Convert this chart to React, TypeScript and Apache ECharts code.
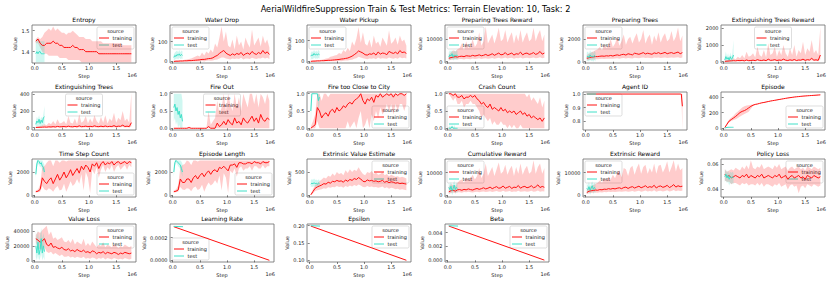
import React, { useEffect, useRef } from 'react';
import * as echarts from 'echarts';

const RED = '#ff1010';
const TURQ = '#40e0c8';
const RED_BAND = 'rgba(255,0,0,0.2)';
const TURQ_BAND = 'rgba(64,224,200,0.25)';
const FONT = 'DejaVu Sans';

const MAIN_TITLE = 'AerialWildfireSuppression Train & Test Metrics: Terrain Elevation: 10, Task: 2';
const X_TICKS = [0, 0.5, 1.0, 1.5];

const STEPS = [
  0.02, 0.06, 0.10, 0.14, 0.18, 0.22, 0.26, 0.30, 0.34, 0.38,
  0.42, 0.46, 0.50, 0.54, 0.58, 0.62, 0.66, 0.70, 0.74, 0.78,
  0.82, 0.86, 0.90, 0.94, 0.98, 1.02, 1.06, 1.10, 1.14, 1.18,
  1.22, 1.26, 1.30, 1.34, 1.38, 1.42, 1.46, 1.50, 1.54, 1.58,
  1.62, 1.66, 1.70, 1.74, 1.78,
];
const TEST_STEPS = [0.02, 0.04, 0.06, 0.08, 0.10, 0.12, 0.14, 0.16, 0.18];
const AGENT_STEPS = [0.02, 1.74, 1.76, 1.78];
const LINE_STEPS = [0.02, 1.78];
const LINE_TEST_STEPS = [0.02, 0.19];

const entropyMean = [1.45,1.46,1.44,1.43,1.43, 1.44,1.44,1.44,1.45,1.44, 1.44,1.43,1.43,1.42,1.42, 1.42,1.42,1.43,1.42,1.42, 1.41,1.41,1.41,1.40,1.40, 1.40,1.40,1.40,1.40,1.39, 1.39,1.39,1.39,1.39,1.39, 1.39,1.39,1.39,1.39,1.39, 1.39,1.39,1.39,1.39,1.39];
const entropyUpper = [1.46,1.47,1.46,1.47,1.49, 1.50,1.51,1.50,1.52,1.50, 1.51,1.50,1.49,1.49,1.48, 1.49,1.49,1.50,1.49,1.48, 1.47,1.47,1.47,1.46,1.46, 1.46,1.45,1.45,1.45,1.45, 1.45,1.44,1.44,1.44,1.44, 1.44,1.44,1.44,1.44,1.44, 1.43,1.43,1.43,1.43,1.43];
const entropyLower = [1.44,1.44,1.42,1.40,1.39, 1.39,1.38,1.38,1.38,1.38, 1.38,1.37,1.37,1.37,1.37, 1.36,1.36,1.36,1.36,1.36, 1.36,1.35,1.35,1.35,1.35, 1.35,1.35,1.35,1.35,1.35, 1.35,1.35,1.35,1.35,1.35, 1.35,1.35,1.35,1.35,1.35, 1.35,1.35,1.35,1.35,1.35];
const entropyTest = [1.39,1.40,1.39,1.40,1.40,1.39,1.39,1.39,1.39];
const entropyTestUpper = [1.46,1.46,1.45,1.46,1.45,1.45,1.45,1.45,1.45];
const entropyTestLower = [1.35,1.35,1.35,1.35,1.35,1.35,1.35,1.35,1.35];

const waterDropMean = [0,1,1,2,2, 3,3,4,4,5, 6,7,8,10,10, 12,14,15,18,25, 30,40,48,55,42, 35,30,38,32,40, 35,45,30,38,42, 35,50,40,35,45, 38,55,40,48,35];
const waterDropUpper = [2,4,5,6,6, 8,10,12,15,20, 25,30,25,45,30, 50,40,60,45,90, 70,120,175,100,150, 80,70,110,60,130, 80,100,60,120,90, 70,160,80,100,120, 75,130,90,110,70];
const waterDropLower = [0,0,0,0,0, 0,0,0,0,0, 0,0,0,2,0, 3,4,3,5,8, 10,15,20,20,15, 12,10,15,12,15, 12,18,10,14,15, 12,18,14,12,16, 14,20,15,18,12];
const waterDropTest = [20,30,25,35,30,38,28,35,30];
const waterDropTestUpper = [35,45,50,55,45,58,45,55,50];
const waterDropTestLower = [5,10,12,15,10,18,12,15,12];

const waterPickupMean = [0,1,1,2,2, 3,3,4,5,5, 6,7,8,9,11, 12,14,16,20,25, 32,40,50,45,40, 32,30,36,34,40, 30,45,35,40,38, 32,48,42,38,44, 36,52,42,45,38];
const waterPickupUpper = [2,4,5,6,7, 8,10,14,15,22, 24,28,30,40,35, 55,45,65,50,95, 75,110,165,90,140, 85,75,105,65,125, 85,95,70,115,95, 75,150,85,95,115, 80,125,95,105,75];
const waterPickupLower = [0,0,0,0,0, 0,0,0,0,0, 0,1,0,2,1, 3,4,4,6,8, 12,15,22,18,15, 12,10,14,12,15, 10,18,12,15,14, 12,18,15,13,16, 13,20,15,17,14];
const waterPickupTest = [25,32,28,38,30,35,30,36,32];
const waterPickupTestUpper = [40,48,45,55,45,52,45,55,48];
const waterPickupTestLower = [8,12,10,18,12,15,12,16,14];

const prepRewardMean = [1500,1800,2000,2200,2000, 2300,2400,2200,2600,2500, 2400,2800,2500,2700,3000, 2600,2800,3200,2700,3000, 3500,2800,3300,3800,3000, 3200,4000,3000,3400,3800, 2900,3500,3300,4200,3000, 3600,3800,3200,3500,4000, 3200,3600,4500,3300,3800];
const prepRewardUpper = [3000,4000,5000,4500,5500, 6000,8000,5000,9000,6000, 7000,10000,6500,8000,13000, 7000,9000,15500,8000,10000, 12000,8000,11000,15000,9000, 10000,14000,8500,11000,13000, 8000,12000,9000,14000,8500, 11000,13000,9000,10000,15000, 9000,12000,14000,9000,12000];
const prepRewardLower = [500,800,1000,1200,1000, 1200,1200,1000,1300,1200, 1100,1400,1200,1300,1500, 1200,1400,1500,1300,1400, 1600,1300,1500,1700,1400, 1500,1800,1400,1600,1700, 1300,1600,1500,1800,1400, 1600,1700,1500,1600,1800, 1500,1600,1900,1500,1700];
const prepRewardTest = [2000,3000,2500,3500,2000,3000,2500,3000,2500];
const prepRewardTestUpper = [4000,5000,4500,5000,4000,5000,4500,5000,4500];
const prepRewardTestLower = [500,1000,800,1500,500,1000,800,1000,800];

const prepTreesMean = [300,350,400,420,450, 450,480,500,480,520, 500,550,500,560,600, 550,620,650,580,700, 650,600,750,700,650, 720,800,680,750,700, 650,780,720,800,700, 750,820,700,760,800, 720,780,850,700,800];
const prepTreesUpper = [600,700,800,900,1000, 1100,1300,1000,1500,1200, 1400,2000,1300,1600,2200, 1400,1800,2400,1500,2000, 2200,1600,2100,2500,1700, 2000,2800,1600,2100,2400, 1500,2300,1800,2600,1700, 2200,2500,1800,2000,2700, 1800,2200,3000,1800,2300];
const prepTreesLower = [100,150,200,200,220, 220,240,250,240,260, 250,270,250,280,300, 270,300,320,290,330, 310,290,350,330,310, 340,370,320,350,330, 300,360,340,370,330, 350,380,330,350,370, 340,360,390,330,370];
const prepTreesTest = [400,500,350,600,450,500,400,550,450];
const prepTreesTestUpper = [800,900,700,1000,800,900,750,950,800];
const prepTreesTestLower = [0,100,0,200,50,100,0,150,50];

const extRewardMean = [20,30,40,50,60, 50,70,60,80,50, 100,60,70,90,60, 120,80,70,100,60, 150,80,90,120,70, 100,80,150,90,70, 110,80,130,70,100, 90,150,80,120,100, 200,90,110,80,400];
const extRewardUpper = [50,80,100,150,200, 150,300,200,400,200, 600,300,350,500,250, 900,400,300,700,250, 1100,400,500,900,300, 700,400,1000,500,300, 800,400,1000,300,700, 500,1200,400,800,600, 1300,500,700,400,2100];
const extRewardLower = [0,0,10,20,20, 20,30,20,30,20, 40,20,30,40,20, 50,30,30,40,20, 60,30,40,50,30, 40,30,60,40,30, 50,30,50,30,40, 40,60,30,50,40, 80,40,50,30,150];
const extRewardTest = [100,300,150,250,100,300,150,200,400];
const extRewardTestUpper = [300,600,300,500,200,550,300,500,1300];
const extRewardTestLower = [0,50,0,50,0,50,0,0,0];

const extTreesMean = [2,4,5,6,8, 6,10,8,12,8, 15,10,12,14,10, 18,12,10,15,10, 22,12,14,18,12, 16,12,22,14,12, 18,12,20,12,16, 14,24,12,18,16, 30,14,18,12,60];
const extTreesUpper = [10,15,20,30,40, 30,60,40,80,40, 100,50,60,80,40, 140,60,50,110,40, 160,60,80,140,50, 110,60,150,80,50, 130,60,150,50,110, 80,180,60,120,90, 200,80,110,60,420];
const extTreesLower = [0,0,0,1,2, 1,2,2,3,2, 4,2,3,3,2, 4,3,2,4,2, 5,3,3,4,3, 4,3,5,3,3, 4,3,5,3,4, 3,6,3,4,4, 7,3,4,3,15];
const extTreesTest = [40,80,60,100,50,90,60,120,130];
const extTreesTestUpper = [80,130,100,150,90,130,100,160,260];
const extTreesTestLower = [0,20,10,30,0,30,10,40,20];

const fireOutMean = [0,0,0,0,0, 0,0,0.02,0,0, 0,0,0,0,0, 0,0.05,0,0,0, 0.15,0.05,0.1,0.2,0.1, 0.25,0.15,0.1,0.3,0.15, 0.2,0.1,0.3,0.2,0.15, 0.25,0.35,0.2,0.3,0.15, 0.4,0.25,0.2,0.3,0.25];
const fireOutUpper = [0,0,0,0,0, 0,0,0.05,0,0, 0,0,0,0,0, 0,0.5,0.1,0.2,0.3, 0.8,0.4,0.6,1,0.5, 1,0.7,0.5,1,0.6, 0.9,0.5,1,0.8,0.6, 1,1,0.7,1,0.6, 1,0.9,0.7,1,0.8];
const fireOutLower = [0,0,0,0,0, 0,0,0,0,0, 0,0,0,0,0, 0,0,0,0,0, 0,0,0,0,0, 0,0,0,0,0, 0,0,0,0,0, 0,0,0,0,0, 0,0,0,0,0];
const fireOutTest = [0.6,0.7,0.5,0.6,0.4,0.5,0.3,0.4,0.2];
const fireOutTestUpper = [1,1,1,1,1,1,1,1,0.8];
const fireOutTestLower = [0.2,0.3,0.1,0.2,0,0.1,0,0,0];

const fireCloseMean = [0,0.05,0.1,0.6,0.5, 0.3,0.4,0.45,0.35,0.5, 0.55,0.45,0.6,0.5,0.55, 0.65,0.6,0.7,0.75,0.7, 0.8,0.85,0.9,1,0.8, 0.7,0.85,0.8,0.9,0.75, 0.95,0.9,1,0.9,0.95, 1,0.95,1,0.9,1, 0.95,1,1,0.95,1];
const fireCloseUpper = [0.05,0.2,0.4,1,1, 0.8,1,1,0.9,1, 1,1,1,1,1, 1,1,1,1,1, 1,1,1,1,1, 1,1,1,1,1, 1,1,1,1,1, 1,1,1,1,1, 1,1,1,1,1];
const fireCloseLower = [0,0,0,0.2,0, 0,0,0,0,0, 0,0,0,0,0, 0,0,0.2,0,0.1, 0.2,0,0.3,0.5,0, 0.1,0.3,0,0.4,0.2, 0.5,0.3,0.6,0.4,0.5, 0.7,0.5,0.7,0.4,0.7, 0.5,0.7,0.7,0.5,0.7];
const fireCloseTest = [0.5,1,1,1,1,1,1,0.8,0.9];
const fireCloseTestUpper = [1,1,1,1,1,1,1,1,1];
const fireCloseTestLower = [0,1,1,1,1,1,1,0.5,0.7];

const crashMean = [1,1,0.95,1,0.9, 0.9,0.95,0.85,0.9,0.9, 0.95,0.9,0.95,0.85,0.8, 0.7,0.75,0.65,0.6,0.7, 0.55,0.6,0.55,0.5,0.6, 0.5,0.55,0.45,0.5,0.45, 0.5,0.4,0.45,0.5,0.4, 0.45,0.35,0.4,0.3,0.35, 0.3,0.25,0.3,0.2,0.3];
const crashUpper = [1,1,1,1,1, 1,1,1,1,1, 1,1,1,1,1, 1,1,1,1,1, 1,1,1,1,1, 1,1,1,1,1, 1,1,1,1,1, 1,0.9,1,0.8,0.9, 0.8,0.7,0.9,0.6,0.8];
const crashLower = [1,0.9,0.8,0.9,0.7, 0.7,0.8,0.6,0.7,0.7, 0.8,0.7,0.7,0.6,0.5, 0.3,0.4,0.3,0.2,0.3, 0.1,0.2,0.1,0.1,0.2, 0.1,0.1,0,0.1,0, 0.1,0,0,0.1,0, 0,0,0,0,0, 0,0,0,0,0];
const crashTest = [0,0,0,0.05,0,0,0,0,0];
const crashTestUpper = [0,0.1,0,0.1,0,0.1,0,0,0];
const crashTestLower = [0,0,0,0,0,0,0,0,0];

const agentMean = [1,1,1,0.91];
const agentUpper = [1,1,1,1];
const agentLower = [1,1,1,0.735];
const agentTest = [1,1];

const episodeMean = [5,50,90,110,130, 150,175,200,215,225, 240,260,280,295,305, 310,318,325,330,336, 342,348,353,358,363, 368,373,378,383,388, 392,396,400,403,406, 409,412,414,416,418, 420,422,424,426,428];
const episodeUpper = [8,70,110,135,160, 190,215,240,265,280, 290,295,300,305,310, 314,321,328,333,339, 345,351,356,361,366, 371,376,381,386,391, 395,399,403,406,409, 412,415,417,419,421, 423,425,427,429,431];
const episodeLower = [2,35,75,90,105, 115,130,150,165,180, 195,210,250,285,300, 306,315,322,327,333, 339,345,350,355,360, 365,370,375,380,385, 389,393,397,400,403, 406,409,411,413,415, 417,419,421,423,425];
const episodeTest = [0,5,8,10,10,10,10,10,10];

const timeStepMean = [300,350,500,1500,1200, 1000,1300,1500,1000,1400, 1800,1300,1600,2000,1500, 1800,2200,1700,2000,2300, 1900,2500,2200,2600,2400, 2000,2700,2500,2800,2300, 2700,2900,2600,2800,2700, 2900,2600,2800,2900,2700, 2800,2900,2700,2900,2800];
const timeStepUpper = [400,500,900,2500,2500, 2800,3000,3000,2500,3000, 3000,2800,3000,3000,2900, 3000,3000,3000,3000,3000, 3000,3000,3000,3000,3000, 3000,3000,3000,3000,3000, 3000,3000,3000,3000,3000, 3000,3000,3000,3000,3000, 3000,3000,3000,3000,3000];
const timeStepLower = [250,250,300,800,500, 400,600,500,300,600, 800,400,500,1000,300, 700,1200,800,1000,1400, 1000,1800,400,2000,1500, 200,2200,1800,2400,1500, 2200,2600,2000,2400,2200, 2600,2000,2400,2600,2200, 2400,2600,2200,2600,2400];
const timeStepTest = [1800,2700,3000,2900,2700,2800,2500,2400,2000];
const timeStepTestUpper = [2500,3000,3000,3000,3000,3000,3000,2800,2600];
const timeStepTestLower = [1500,2400,2700,2600,2400,2500,2100,2000,1600];

const epLenMean = [300,350,450,1400,1100, 1100,1400,1400,1100,1500, 1700,1400,1700,1900,1600, 1900,2100,1800,2100,2200, 2000,2400,2300,2500,2300, 2100,2600,2600,2700,2400, 2800,2800,2700,2700,2800, 2800,2700,2900,2800,2800, 2700,2900,2800,2800,2900];
const epLenUpper = [400,500,850,2400,2600, 2700,3000,2900,2600,3000, 3000,2900,3000,3000,3000, 3000,3000,3000,3000,3000, 3000,3000,3000,3000,3000, 3000,3000,3000,3000,3000, 3000,3000,3000,3000,3000, 3000,3000,3000,3000,3000, 3000,3000,3000,3000,3000];
const epLenLower = [250,250,300,700,500, 450,600,550,350,650, 750,450,550,900,300, 750,1100,850,1000,1300, 1000,1700,400,1900,1500, 200,2100,1900,2300,1600, 2300,2500,2100,2300,2300, 2500,2100,2500,2500,2300, 2300,2600,2300,2500,2500];
const epLenTest = [2000,2800,3000,2900,2800,2700,2600,2300,2000];
const epLenTestUpper = [2600,3000,3000,3000,3000,3000,3000,2900,2700];
const epLenTestLower = [1600,2500,2800,2700,2500,2400,2200,1900,1600];

const valueEstMean = [10,80,150,180,200, 220,250,240,280,260, 300,290,320,300,310, 280,330,300,340,320, 360,340,380,350,300, 290,330,310,320,300, 310,290,300,320,280, 300,270,290,280,260, 270,250,260,250,240];
const valueEstUpper = [20,130,220,260,300, 340,380,360,420,400, 470,420,500,460,480, 430,540,480,560,500, 550,520,600,520,460, 430,500,480,520,460, 490,440,460,500,430, 460,410,440,420,400, 410,380,400,380,360];
const valueEstLower = [0,40,90,110,120, 130,150,140,170,160, 180,170,200,180,190, 160,200,180,210,190, 220,200,230,210,180, 170,200,180,190,170, 180,160,170,190,150, 170,140,160,150,130, 140,120,130,120,110];
const valueEstTest = [240,260,250,270,250,260,240,260,250];
const valueEstTestUpper = [320,350,330,360,330,340,320,340,330];
const valueEstTestLower = [180,190,180,200,180,190,170,190,180];

const cumRewardMean = [1500,2000,2200,1800,2400, 2500,2200,2600,2400,2800, 2500,2300,2700,3000,2600, 2900,3300,2800,3100,3600, 2900,3400,3800,3100,3300, 4100,3100,3500,3900,3000, 3600,3400,4300,3100,3700, 3900,3300,3600,4200,3300, 3700,4600,3400,3900,3500];
const cumRewardUpper = [3500,5000,4500,4000,5500, 6500,7000,5500,8000,6500, 7500,9000,7000,8500,12000, 7500,9500,14000,8500,10500, 12500,8500,11500,14500,9500, 10500,13500,9000,11500,13000, 8500,12500,9500,14000,9000, 11500,13000,9500,10500,15500, 9500,12500,14000,9500,12000];
const cumRewardLower = [500,1000,1200,900,1300, 1300,1100,1400,1300,1500, 1300,1200,1400,1600,1300, 1500,1700,1400,1600,1800, 1400,1700,1900,1500,1600, 2000,1500,1700,1900,1400, 1700,1600,2000,1500,1700, 1800,1500,1700,2000,1600, 1700,2100,1600,1800,1700];
const cumRewardTest = [3500,2500,4000,2000,3000,4500,2500,3500,3000];
const cumRewardTestUpper = [5500,4500,6000,4000,5000,6500,4500,5500,5000];
const cumRewardTestLower = [1500,500,2000,0,1000,2500,500,1500,1000];

const extrRewardMean = [1200,1800,2000,2100,2300, 2200,2500,2400,2700,2600, 2900,2700,3000,2800,3100, 3300,2900,3400,3600,3000, 3500,3800,3200,3600,4000, 3300,3700,4200,3400,3800, 3500,4400,3200,3900,4100, 3500,3800,4400,3400,3900, 4700,3600,4200,3800,4000];
const extrRewardUpper = [2500,3500,4000,4500,5000, 5500,6500,5500,7500,6500, 8000,7000,9000,7500,10000, 11000,8000,12000,11500,8500, 12000,13000,9000,12000,14000, 9500,12500,13500,9500,12000, 10000,14000,9500,13000,13500, 10000,12000,15000,10000,12500, 15500,10500,14000,11000,12000];
const extrRewardLower = [500,900,1000,1100,1200, 1100,1300,1200,1400,1300, 1500,1400,1500,1400,1600, 1700,1500,1700,1800,1500, 1700,1900,1600,1800,2000, 1600,1800,2100,1700,1900, 1700,2200,1600,1900,2000, 1700,1900,2200,1700,1900, 2300,1800,2100,1900,2000];
const extrRewardTest = [3000,2500,3800,2200,3200,4200,2600,3400,3000];
const extrRewardTestUpper = [5000,4500,5800,4200,5200,6200,4600,5400,5000];
const extrRewardTestLower = [1200,600,1800,200,1200,2200,600,1400,1000];

const policyMean = [0.052,0.050,0.051,0.049,0.050, 0.051,0.050,0.049,0.051,0.050, 0.052,0.049,0.051,0.050,0.049, 0.051,0.050,0.052,0.049,0.050, 0.051,0.050,0.049,0.051,0.050, 0.052,0.049,0.050,0.051,0.048, 0.050,0.051,0.049,0.050,0.051, 0.049,0.050,0.048,0.051,0.050, 0.049,0.051,0.050,0.049,0.050];
const policyUpper = [0.056,0.054,0.055,0.056,0.055, 0.057,0.056,0.055,0.058,0.056, 0.059,0.056,0.063,0.057,0.056, 0.058,0.057,0.060,0.056,0.057, 0.058,0.057,0.056,0.059,0.057, 0.060,0.056,0.057,0.058,0.055, 0.057,0.058,0.056,0.057,0.058, 0.056,0.057,0.055,0.058,0.057, 0.056,0.058,0.057,0.056,0.057];
const policyLower = [0.047,0.046,0.046,0.044,0.045, 0.045,0.044,0.043,0.045,0.044, 0.045,0.043,0.044,0.044,0.043, 0.045,0.043,0.045,0.042,0.044, 0.044,0.043,0.042,0.044,0.043, 0.045,0.042,0.043,0.044,0.040, 0.043,0.044,0.042,0.043,0.037, 0.042,0.043,0.041,0.044,0.043, 0.042,0.044,0.043,0.042,0.043];
const policyTest = [0.050,0.052,0.049,0.051,0.048,0.050,0.049,0.050,0.049];
const policyTestUpper = [0.054,0.056,0.053,0.055,0.052,0.054,0.053,0.054,0.053];
const policyTestLower = [0.046,0.047,0.045,0.046,0.043,0.045,0.044,0.045,0.044];

const valueLossMean = [30000,28000,25000,27000,30000, 22000,20000,24000,18000,19000, 17000,16000,18000,15000,14000, 16000,13000,14000,12000,15000, 13000,12000,14000,11000,12000, 10000,13000,12000,9000,11000, 10000,12000,9000,11000,10000, 9000,11000,10000,8000,10000, 9000,11000,10000,9000,10000];
const valueLossUpper = [35000,40000,38000,42000,45000, 48000,35000,40000,30000,32000, 28000,30000,32000,26000,25000, 28000,24000,30000,22000,26000, 24000,22000,30000,20000,24000, 20000,26000,22000,18000,22000, 20000,25000,18000,22000,20000, 18000,22000,20000,17000,20000, 18000,22000,20000,18000,20000];
const valueLossLower = [25000,18000,15000,15000,18000, 12000,10000,12000,8000,10000, 8000,6000,8000,5000,5000, 6000,4000,5000,3000,5000, 4000,3000,5000,2000,3000, 2000,4000,3000,1000,3000, 2000,4000,1000,3000,2000, 1000,3000,2000,1000,2000, 1000,3000,2000,1000,2000];
const valueLossTest = [20000,10000,25000,8000,15000,30000,10000,20000,12000];
const valueLossTestUpper = [40000,30000,42000,25000,35000,45000,30000,38000,30000];
const valueLossTestLower = [5000,0,8000,0,3000,10000,0,5000,0];

const learningRate = [0.000297, 0.0];
const learningRateTest = [0.0003, 0.000297];
const epsilon = [0.199, 0.100];
const epsilonTest = [0.2, 0.199];
const beta = [0.00495, 0.00002];
const betaTest = [0.005, 0.00495];

type Panel = {
  title: string; ymin: number; ymax: number; yticks: number[]; dec: number; legend: string;
  x: number[]; mean: number[]; upper?: number[]; lower?: number[];
  tx: number[]; tmean: number[]; tupper?: number[]; tlower?: number[];
};

const PANELS: Panel[] = [
  { title: 'Entropy', ymin: 1.346, ymax: 1.527, yticks: [1.4, 1.5], dec: 1, legend: 'ur', x: STEPS, mean: entropyMean, upper: entropyUpper, lower: entropyLower, tx: TEST_STEPS, tmean: entropyTest, tupper: entropyTestUpper, tlower: entropyTestLower },
  { title: 'Water Drop', ymin: -8, ymax: 183, yticks: [0, 100], dec: 0, legend: 'ul', x: STEPS, mean: waterDropMean, upper: waterDropUpper, lower: waterDropLower, tx: TEST_STEPS, tmean: waterDropTest, tupper: waterDropTestUpper, tlower: waterDropTestLower },
  { title: 'Water Pickup', ymin: -8, ymax: 175, yticks: [0, 100], dec: 0, legend: 'ul', x: STEPS, mean: waterPickupMean, upper: waterPickupUpper, lower: waterPickupLower, tx: TEST_STEPS, tmean: waterPickupTest, tupper: waterPickupTestUpper, tlower: waterPickupTestLower },
  { title: 'Preparing Trees Reward', ymin: -600, ymax: 16200, yticks: [0, 10000], dec: 0, legend: 'ul', x: STEPS, mean: prepRewardMean, upper: prepRewardUpper, lower: prepRewardLower, tx: TEST_STEPS, tmean: prepRewardTest, tupper: prepRewardTestUpper, tlower: prepRewardTestLower },
  { title: 'Preparing Trees', ymin: -115, ymax: 3230, yticks: [0, 2000], dec: 0, legend: 'ul', x: STEPS, mean: prepTreesMean, upper: prepTreesUpper, lower: prepTreesLower, tx: TEST_STEPS, tmean: prepTreesTest, tupper: prepTreesTestUpper, tlower: prepTreesTestLower },
  { title: 'Extinguishing Trees Reward', ymin: -80, ymax: 2200, yticks: [0, 1000, 2000], dec: 0, legend: 'um', x: STEPS, mean: extRewardMean, upper: extRewardUpper, lower: extRewardLower, tx: TEST_STEPS, tmean: extRewardTest, tupper: extRewardTestUpper, tlower: extRewardTestLower },

  { title: 'Extinguishing Trees', ymin: -28, ymax: 428, yticks: [0, 200, 400], dec: 0, legend: 'um', x: STEPS, mean: extTreesMean, upper: extTreesUpper, lower: extTreesLower, tx: TEST_STEPS, tmean: extTreesTest, tupper: extTreesTestUpper, tlower: extTreesTestLower },
  { title: 'Fire Out', ymin: -0.05, ymax: 1.05, yticks: [0, 0.5, 1.0], dec: 1, legend: 'um', x: STEPS, mean: fireOutMean, upper: fireOutUpper, lower: fireOutLower, tx: TEST_STEPS, tmean: fireOutTest, tupper: fireOutTestUpper, tlower: fireOutTestLower },
  { title: 'Fire too Close to City', ymin: -0.05, ymax: 1.05, yticks: [0, 0.5, 1.0], dec: 1, legend: 'lr', x: STEPS, mean: fireCloseMean, upper: fireCloseUpper, lower: fireCloseLower, tx: TEST_STEPS, tmean: fireCloseTest, tupper: fireCloseTestUpper, tlower: fireCloseTestLower },
  { title: 'Crash Count', ymin: -0.05, ymax: 1.05, yticks: [0, 0.5, 1.0], dec: 1, legend: 'll', x: STEPS, mean: crashMean, upper: crashUpper, lower: crashLower, tx: TEST_STEPS, tmean: crashTest, tupper: crashTestUpper, tlower: crashTestLower },
  { title: 'Agent ID', ymin: 0.735, ymax: 1.015, yticks: [0.8, 0.9, 1.0], dec: 1, legend: 'ul', x: AGENT_STEPS, mean: agentMean, upper: agentUpper, lower: agentLower, tx: LINE_TEST_STEPS, tmean: agentTest },
  { title: 'Episode', ymin: -25, ymax: 465, yticks: [0, 200, 400], dec: 0, legend: 'lr', x: STEPS, mean: episodeMean, upper: episodeUpper, lower: episodeLower, tx: TEST_STEPS, tmean: episodeTest },

  { title: 'Time Step Count', ymin: -150, ymax: 3120, yticks: [0, 2000], dec: 0, legend: 'lr', x: STEPS, mean: timeStepMean, upper: timeStepUpper, lower: timeStepLower, tx: TEST_STEPS, tmean: timeStepTest, tupper: timeStepTestUpper, tlower: timeStepTestLower },
  { title: 'Episode Length', ymin: -150, ymax: 3120, yticks: [0, 2000], dec: 0, legend: 'lr', x: STEPS, mean: epLenMean, upper: epLenUpper, lower: epLenLower, tx: TEST_STEPS, tmean: epLenTest, tupper: epLenTestUpper, tlower: epLenTestLower },
  { title: 'Extrinsic Value Estimate', ymin: -37, ymax: 780, yticks: [0, 500], dec: 0, legend: 'ur', x: STEPS, mean: valueEstMean, upper: valueEstUpper, lower: valueEstLower, tx: TEST_STEPS, tmean: valueEstTest, tupper: valueEstTestUpper, tlower: valueEstTestLower },
  { title: 'Cumulative Reward', ymin: -770, ymax: 16000, yticks: [0, 10000], dec: 0, legend: 'ul', x: STEPS, mean: cumRewardMean, upper: cumRewardUpper, lower: cumRewardLower, tx: TEST_STEPS, tmean: cumRewardTest, tupper: cumRewardTestUpper, tlower: cumRewardTestLower },
  { title: 'Extrinsic Reward', ymin: -770, ymax: 16000, yticks: [0, 10000], dec: 0, legend: 'ul', x: STEPS, mean: extrRewardMean, upper: extrRewardUpper, lower: extrRewardLower, tx: TEST_STEPS, tmean: extrRewardTest, tupper: extrRewardTestUpper, tlower: extrRewardTestLower },
  { title: 'Policy Loss', ymin: 0.034, ymax: 0.064, yticks: [0.04, 0.06], dec: 2, legend: 'ur', x: STEPS, mean: policyMean, upper: policyUpper, lower: policyLower, tx: TEST_STEPS, tmean: policyTest, tupper: policyTestUpper, tlower: policyTestLower },

  { title: 'Value Loss', ymin: -2400, ymax: 50400, yticks: [0, 20000, 40000], dec: 0, legend: 'ur', x: STEPS, mean: valueLossMean, upper: valueLossUpper, lower: valueLossLower, tx: TEST_STEPS, tmean: valueLossTest, tupper: valueLossTestUpper, tlower: valueLossTestLower },
  { title: 'Learning Rate', ymin: -0.000015, ymax: 0.000321, yticks: [0, 0.0002], dec: 4, legend: 'll', x: LINE_STEPS, mean: learningRate, tx: LINE_TEST_STEPS, tmean: learningRateTest },
  { title: 'Epsilon', ymin: 0.095, ymax: 0.205, yticks: [0.10, 0.15, 0.20], dec: 2, legend: 'ur', x: LINE_STEPS, mean: epsilon, tx: LINE_TEST_STEPS, tmean: epsilonTest },
  { title: 'Beta', ymin: -0.00025, ymax: 0.00525, yticks: [0, 0.002, 0.004], dec: 3, legend: 'ur', x: LINE_STEPS, mean: beta, tx: LINE_TEST_STEPS, tmean: betaTest },
];

const LEFTS = [32, 170, 307, 445, 583, 721];
const TOPS = [25, 92, 159, 224];
const PW = 104;
const PH = 38;
const FS = 5;
const LW = 37;
const LH = 22;

const textW = (s: string) => [...s].reduce((a, c) => a + (c === '.' ? 0.318 : 0.636), 0) * FS;

function bandSeries(i: number, xs: number[], up: number[], lo: number[], color: string, z: number) {
  return {
    type: 'custom', xAxisIndex: i, yAxisIndex: i, silent: true, clip: true, z,
    data: [[xs[0], lo[0]]],
    renderItem: (_params: any, api: any) => {
      const pts: number[][] = [];
      for (let k = 0; k < xs.length; k++) pts.push(api.coord([xs[k], up[k]]));
      for (let k = xs.length - 1; k >= 0; k--) pts.push(api.coord([xs[k], lo[k]]));
      return { type: 'polygon', shape: { points: pts }, style: { fill: color, stroke: 'none' } };
    },
  };
}

function buildOption() {
  const grids: any[] = [];
  const xAxes: any[] = [];
  const yAxes: any[] = [];
  const series: any[] = [];
  const graphics: any[] = [];
  const titles: any[] = [
    { text: MAIN_TITLE, left: 415.5, top: 4.5, padding: 0, textAlign: 'center', textStyle: { fontSize: 8.2, fontWeight: 'normal', color: '#000', fontFamily: FONT } },
  ];

  PANELS.forEach((p, i) => {
    const col = i % 6;
    const row = Math.floor(i / 6);
    const left = LEFTS[col];
    const top = TOPS[row];
    grids.push({ left, top, width: PW, height: PH, show: true, borderColor: '#6a6a6a', borderWidth: 0.8, backgroundColor: 'transparent' });

    titles.push({ text: p.title, left: left + PW / 2, top: top - 8.3, padding: 0, textAlign: 'center', textStyle: { fontSize: 6, fontWeight: 'normal', color: '#000', fontFamily: FONT } });

    xAxes.push({
      type: 'value', gridIndex: i, min: -0.05, max: 1.865,
      axisLine: { show: false }, splitLine: { show: false },
      axisTick: { show: true, customValues: X_TICKS, length: 2, lineStyle: { color: '#333', width: 0.6 } },
      axisLabel: { customValues: X_TICKS, formatter: (v: number) => v.toFixed(1), fontSize: FS, margin: 2.5, color: '#222', fontFamily: FONT },
      name: 'Step', nameLocation: 'middle', nameGap: 10,
      nameTextStyle: { fontSize: FS, color: '#222', fontFamily: FONT },
    });

    const maxLab = Math.max(...p.yticks.map((v) => textW(v.toFixed(p.dec))));
    yAxes.push({
      type: 'value', gridIndex: i, min: p.ymin, max: p.ymax,
      axisLine: { show: false }, splitLine: { show: false },
      axisTick: { show: true, customValues: p.yticks, length: 2, lineStyle: { color: '#333', width: 0.6 } },
      axisLabel: { customValues: p.yticks, formatter: (v: number) => v.toFixed(p.dec), fontSize: FS, margin: 2.5, color: '#222', fontFamily: FONT },
      name: 'Value', nameLocation: 'middle', nameGap: maxLab + 6,
      nameTextStyle: { fontSize: FS, color: '#222', fontFamily: FONT },
    });

    if (p.upper && p.lower) series.push(bandSeries(i, p.x, p.upper, p.lower, RED_BAND, 1));
    if (p.tupper && p.tlower) series.push(bandSeries(i, p.tx, p.tupper, p.tlower, TURQ_BAND, 2));

    const common = { type: 'line', xAxisIndex: i, yAxisIndex: i, symbol: 'none', showSymbol: false, silent: true };
    series.push({ ...common, z: 3, data: p.x.map((x, k) => [x, p.mean[k]]), lineStyle: { color: RED, width: 1 } });
    series.push({ ...common, z: 4, data: p.tx.map((x, k) => [x, p.tmean[k]]), lineStyle: { color: TURQ, width: 1 } });

    graphics.push({
      type: 'text', x: left + PW + 1, y: top + PH + 12,
      style: { text: '1e6', fontSize: FS, fontFamily: FONT, fill: '#222', align: 'right', verticalAlign: 'middle', textAlign: 'right', textVerticalAlign: 'middle' },
    });

    let lx = left + 2;
    let ly = top + 2;
    if (p.legend === 'ur') lx = left + PW - 2 - LW;
    if (p.legend === 'um') lx = left + PW / 2 - LW / 2;
    if (p.legend === 'lr') { lx = left + PW - 2 - LW; ly = top + PH - 2 - LH; }
    if (p.legend === 'll') { ly = top + PH - 2 - LH; }
    const ts = (t: string, x: number, y: number, al: string) => ({
      type: 'text', x, y,
      style: { text: t, fontSize: FS, fontFamily: FONT, fill: '#111', align: al, verticalAlign: 'middle', textAlign: al, textVerticalAlign: 'middle' },
    });
    graphics.push({
      type: 'group', x: lx, y: ly,
      children: [
        { type: 'rect', shape: { x: 0, y: 0, width: LW, height: LH, r: 1.5 }, style: { fill: 'rgba(255,255,255,0.8)', stroke: '#d0d0d0', lineWidth: 0.7 } },
        ts('source', LW / 2, 4.3, 'center'),
        { type: 'line', shape: { x1: 2, y1: 11, x2: 12, y2: 11 }, style: { stroke: RED, lineWidth: 1 } },
        ts('training', 15.5, 11, 'left'),
        { type: 'line', shape: { x1: 2, y1: 18, x2: 12, y2: 18 }, style: { stroke: TURQ, lineWidth: 1 } },
        ts('test', 15.5, 18, 'left'),
      ],
    });
  });

  return {
    animation: false,
    backgroundColor: '#ffffff',
    textStyle: { fontFamily: FONT },
    title: titles,
    grid: grids,
    xAxis: xAxes,
    yAxis: yAxes,
    series,
    graphic: { elements: graphics },
  };
}

export default function App() {
  const ref = useRef<HTMLDivElement>(null);
  useEffect(() => {
    if (!ref.current) return;
    const chart = echarts.init(ref.current, undefined, { renderer: 'svg' });
    chart.setOption(buildOption() as any);
    return () => chart.dispose();
  }, []);
  return <div ref={ref} style={{ position: 'fixed', left: 0, top: 0, width: 831, height: 283, background: '#fff' }} />;
}
